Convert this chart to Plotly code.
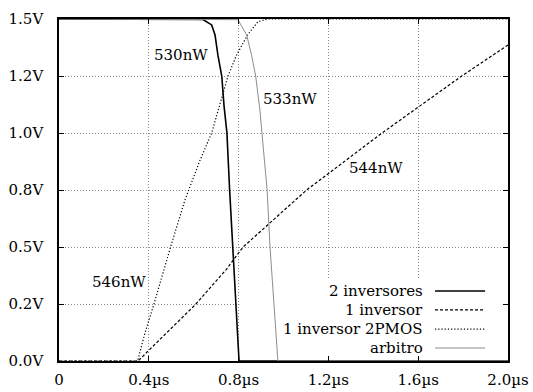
import plotly.graph_objects as go

# ---- data (time in µs, voltage in V) ----
t_2inv = [0, 0.60, 0.641, 0.680, 0.695, 0.708, 0.725, 0.735, 0.748, 0.760, 0.775, 0.787, 0.802, 2.0]
v_2inv = [1.5, 1.5, 1.498, 1.474, 1.43, 1.34, 1.25, 1.12, 1.0, 0.75, 0.5, 0.25, 0.0, 0.0]

t_1inv = [0, 0.352, 0.61, 0.744, 0.82, 1.103, 1.439, 1.794, 2.0]
v_1inv = [0, 0, 0.25, 0.40, 0.5, 0.75, 1.0, 1.25, 1.386]

t_2pmos = [0, 0.35, 0.383, 0.423, 0.497, 0.561, 0.628, 0.68, 0.753, 0.79, 0.84, 0.886, 0.93, 2.0]
v_2pmos = [0, 0, 0.123, 0.25, 0.5, 0.706, 0.88, 1.0, 1.25, 1.34, 1.43, 1.488, 1.5, 1.5]

t_arb = [0, 0.78, 0.797, 0.836, 0.858, 0.876, 0.895, 0.904, 0.927, 0.94, 0.958, 0.975, 2.0]
v_arb = [1.5, 1.5, 1.497, 1.43, 1.34, 1.25, 1.10, 1.0, 0.75, 0.5, 0.25, 0.0, 0.0]

series_names = ["2 inversores", "1 inversor", "1 inversor 2PMOS", "arbitro"]

x_tickvals = [0, 0.4, 0.8, 1.2, 1.6, 2.0]
x_ticktext = ["0", "0.4µs", "0.8µs", "1.2µs", "1.6µs", "2.0µs"]
y_tickvals = [0, 0.25, 0.5, 0.75, 1.0, 1.25, 1.5]
y_ticktext = ["0.0V", "0.2V", "0.5V", "0.8V", "1.0V", "1.2V", "1.5V"]

power_labels = ["530nW", "533nW", "544nW", "546nW"]
power_x = [0.543, 1.029, 1.412, 0.267]
power_y = [1.342, 1.149, 0.846, 0.346]

FONT = "DejaVu Serif"
FS = 15

styles = [
    dict(color="black", width=1.6, dash="solid"),
    dict(color="black", width=1.2, dash="3px,2px"),
    dict(color="black", width=1.2, dash="1.2px,2px"),
    dict(color="#8c8c8c", width=1.0, dash="solid"),
]
data = [(t_2inv, v_2inv), (t_1inv, v_1inv), (t_2pmos, v_2pmos), (t_arb, v_arb)]

fig = go.Figure()
for (tx, vy), name, st in zip(data, series_names, styles):
    fig.add_trace(go.Scatter(x=tx, y=vy, mode="lines", name=name, line=st,
                             showlegend=False))

# opaque key box (hides grid behind the key)
fig.add_shape(type="rect", xref="x", yref="y", x0=0.803, x1=2.0, y0=0, y1=0.355,
              fillcolor="white", line=dict(width=0), layer="between")

# gnuplot-style key: text right-aligned, line sample on the right
key_y = [0.307, 0.224, 0.140, 0.057]
for name, st, ky in zip(series_names, styles, key_y):
    fig.add_annotation(x=1.630, y=ky, xref="x", yref="y", text=name, showarrow=False,
                       xanchor="right", yanchor="middle",
                       font=dict(family=FONT, size=FS, color="black"))
    fig.add_shape(type="line", xref="x", yref="y", x0=1.675, x1=1.898, y0=ky, y1=ky,
                  line=st)

for lab, px, py in zip(power_labels, power_x, power_y):
    fig.add_annotation(x=px, y=py, xref="x", yref="y", text=lab, showarrow=False,
                       xanchor="center", yanchor="middle",
                       font=dict(family=FONT, size=FS, color="black"))

axis_common = dict(
    showline=True, linecolor="black", linewidth=1.5, mirror="allticks",
    ticks="inside", ticklen=5, tickcolor="black", tickwidth=1,
    showgrid=True, gridcolor="#8a8a8a", griddash="1px,2px", gridwidth=1,
    zeroline=False, automargin=False,
    tickfont=dict(family=FONT, size=FS, color="black"),
)

fig.update_xaxes(range=[0, 2.0], tickvals=x_tickvals, ticktext=x_ticktext,
                 ticklabelstandoff=4, **axis_common)
fig.update_yaxes(range=[0, 1.5], tickvals=y_tickvals, ticktext=y_ticktext,
                 ticklabelstandoff=11, **axis_common)

fig.update_layout(
    width=533, height=392,
    margin=dict(l=59, r=25, t=19, b=31),
    paper_bgcolor="white", plot_bgcolor="white",
    font=dict(family=FONT, size=FS, color="black"),
    showlegend=False,
)

fig.write_html("out.html")
